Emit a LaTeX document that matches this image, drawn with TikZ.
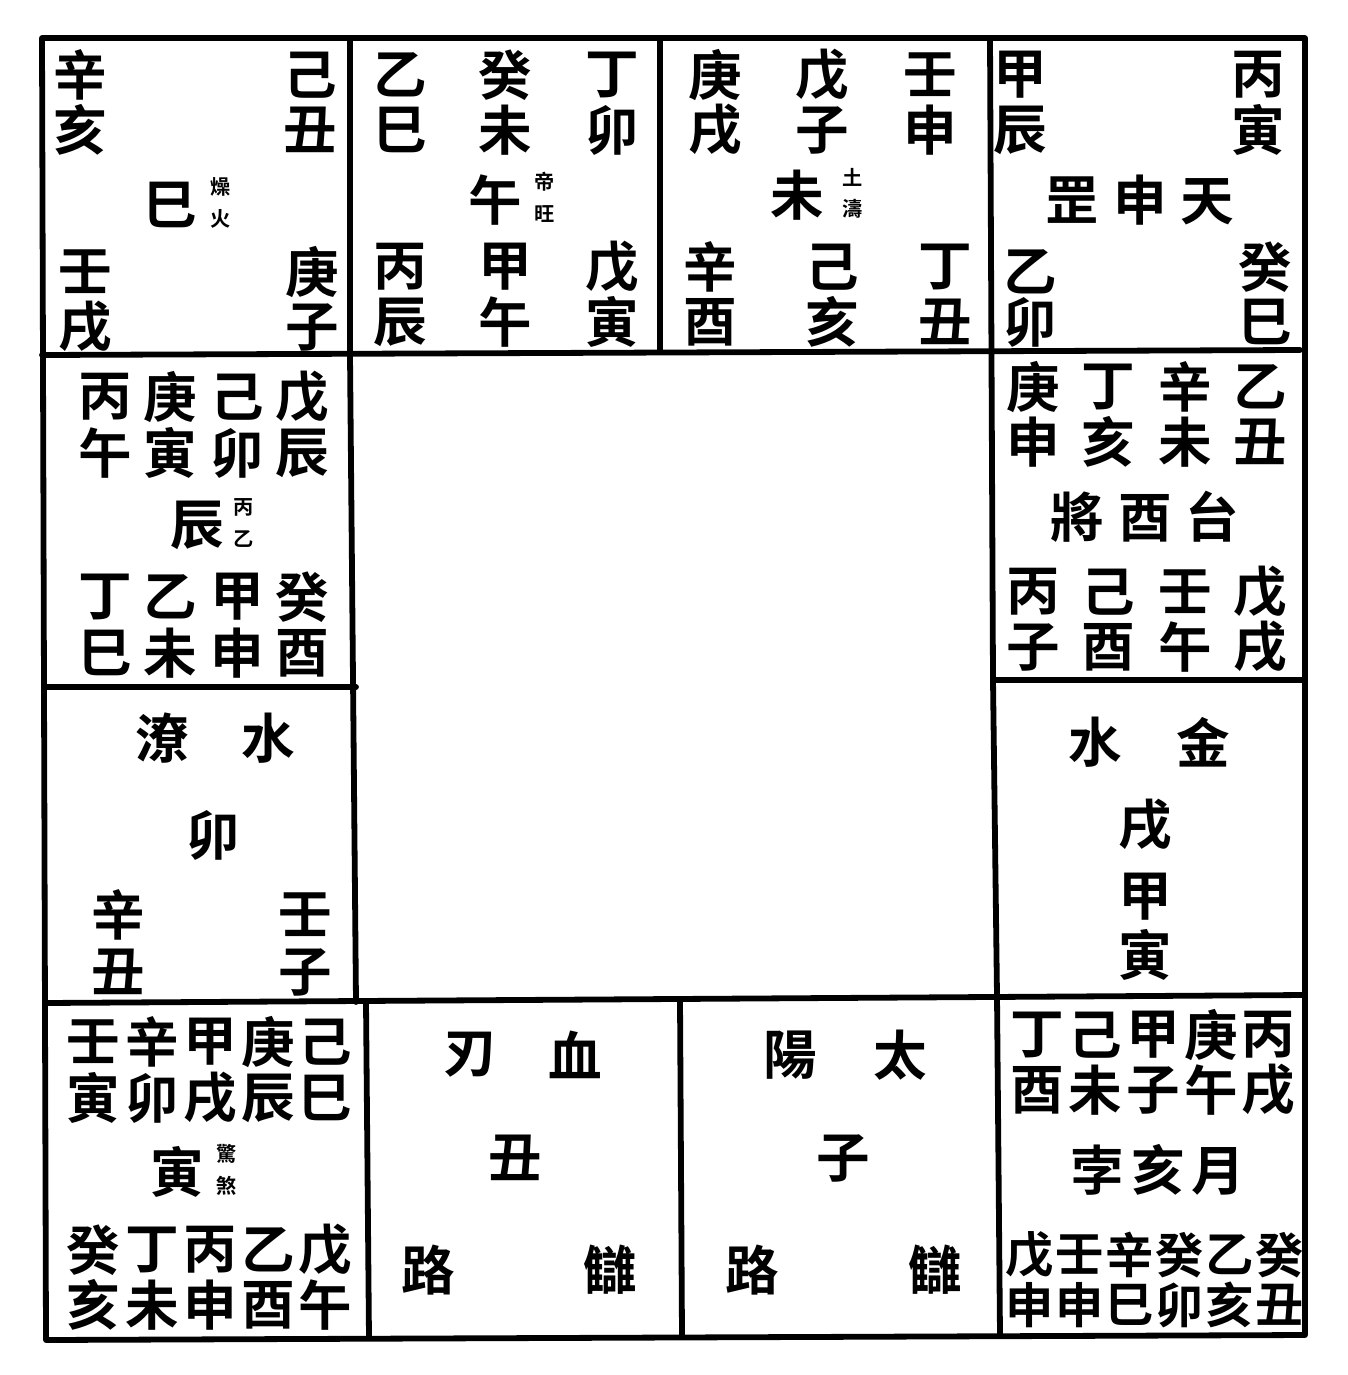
\documentclass[tikz,border=0pt]{standalone}
\usepackage{fontspec}
\newfontfamily\cjk{Noto Sans CJK TC}[BoldFont=* Bold]
\tikzset{
  ch/.style={inner sep=0pt, font=\cjk\bfseries\fontsize{30.5}{30.5}\selectfont},
  chs/.style={inner sep=0pt, font=\cjk\bfseries\fontsize{27.5}{27.5}\selectfont},
  sm/.style={inner sep=0pt, font=\cjk\bfseries\fontsize{11.5}{11.5}\selectfont},
  frame/.style={line width=3.3pt, line cap=round, line join=round}
}
\newcommand\ch[4]{\node[ch] (#1) at (#2,#3) {#4};}
\newcommand\chs[4]{\node[chs] (#1) at (#2,#3) {#4};}
% small stacked pair: name, x, y, top, bottom
\newcommand\sm[5]{\node[sm] (#1t) at (#2,#3-16) {#4};\node[sm] (#1b) at (#2,#3+16) {#5};}
\begin{document}
\begin{tikzpicture}[x=0.02cm,y=-0.02cm]
\useasboundingbox (0,0) rectangle (1347,1375);
% frame
\coordinate (TL) at (42,38); \coordinate (TR) at (1305,38);
\coordinate (BL) at (46,1340); \coordinate (BR) at (1305,1335);
\draw[frame] (TL) -- (TR) -- (BR) -- (BL) -- cycle;
\draw[frame] (42,355) -- (1300,350);
\draw[frame] (350,38) -- (350,355) -- (356,1002);
\draw[frame] (660,38) -- (660,352);
\draw[frame] (990,38) -- (993,680) -- (997,996) -- (1000,1335);
\draw[frame] (44,687) -- (356,687);
\draw[frame] (993,680) -- (1305,680);
\draw[frame] (45,1003) -- (1305,995);
\draw[frame] (366,1002) -- (369,1338);
\draw[frame] (680,1000) -- (682,1336);
% si cell
\ch{a1}{80}{75}{辛}\ch{a2}{80}{130}{亥}
\ch{a3}{310}{75}{己}\ch{a4}{310}{130}{丑}
\ch{a5}{170}{205}{巳}\sm{a6}{221}{203}{燥}{火}
\ch{a7}{85}{272}{壬}\ch{a8}{85}{327}{戌}
\ch{a9}{312}{272}{庚}\ch{a10}{312}{327}{子}
% wu cell
\ch{b1}{400}{75}{乙}\ch{b2}{400}{130}{巳}
\ch{b3}{505}{75}{癸}\ch{b4}{505}{130}{未}
\ch{b5}{612}{75}{丁}\ch{b6}{612}{130}{卯}
\ch{b7}{495}{200}{午}\sm{b8}{545}{198}{帝}{旺}
\ch{b9}{400}{267}{丙}\ch{b10}{400}{322}{辰}
\ch{b11}{505}{267}{甲}\ch{b12}{505}{322}{午}
\ch{b13}{612}{267}{戊}\ch{b14}{612}{322}{寅}
% wei cell
\ch{c1}{715}{75}{庚}\ch{c2}{715}{130}{戌}
\ch{c3}{822}{75}{戊}\ch{c4}{822}{130}{子}
\ch{c5}{930}{75}{壬}\ch{c6}{930}{130}{申}
\ch{c7}{797}{195}{未}\sm{c8}{853}{193}{土}{濤}
\ch{c9}{710}{267}{辛}\ch{c10}{710}{322}{酉}
\ch{c11}{832}{267}{己}\ch{c12}{832}{322}{亥}
\ch{c13}{945}{267}{丁}\ch{c14}{945}{322}{丑}
% shen cell
\ch{d1}{1020}{75}{甲}\ch{d2}{1020}{130}{辰}
\ch{d3}{1258}{75}{丙}\ch{d4}{1258}{130}{寅}
\ch{d5}{1140}{200}{罡\hspace{8pt}申\hspace{8pt}天}
\ch{d6}{1030}{272}{乙}\ch{d7}{1030}{322}{卯}
\ch{d8}{1265}{267}{癸}\ch{d9}{1265}{322}{巳}
% chen cell
\ch{e1}{105}{397}{丙}\ch{e2}{170}{397}{庚}\ch{e3}{237}{397}{己}\ch{e4}{302}{397}{戊}
\ch{e5}{105}{453}{午}\ch{e6}{170}{453}{寅}\ch{e7}{237}{453}{卯}\ch{e8}{302}{453}{辰}
\ch{e9}{197}{525}{辰}\sm{e10}{244}{523}{丙}{乙}
\ch{e11}{105}{597}{丁}\ch{e12}{170}{597}{乙}\ch{e13}{237}{597}{甲}\ch{e14}{302}{597}{癸}
\ch{e15}{105}{653}{巳}\ch{e16}{170}{653}{未}\ch{e17}{237}{653}{申}\ch{e18}{302}{653}{酉}
% you cell
\ch{f1}{1033}{387}{庚}\ch{f2}{1108}{387}{丁}\ch{f3}{1185}{387}{辛}\ch{f4}{1260}{387}{乙}
\ch{f5}{1033}{442}{申}\ch{f6}{1108}{442}{亥}\ch{f7}{1185}{442}{未}\ch{f8}{1260}{442}{丑}
\ch{f9}{1145}{517}{將\hspace{8pt}酉\hspace{8pt}台}
\ch{f10}{1033}{592}{丙}\ch{f11}{1108}{592}{己}\ch{f12}{1185}{592}{壬}\ch{f13}{1260}{592}{戊}
\ch{f14}{1033}{647}{子}\ch{f15}{1108}{647}{酉}\ch{f16}{1185}{647}{午}\ch{f17}{1260}{647}{戌}
% mao cell
\ch{g1}{162}{738}{潦}\ch{g2}{268}{738}{水}
\ch{g3}{213}{835}{卯}
\ch{g4}{118}{915}{辛}\ch{g5}{118}{972}{丑}
\ch{g6}{305}{915}{壬}\ch{g7}{305}{972}{子}
% xu cell
\ch{h1}{1095}{742}{水}\ch{h2}{1203}{742}{金}
\ch{h3}{1145}{825}{戌}
\ch{h4}{1145}{897}{甲}\ch{h5}{1145}{955}{寅}
% yin cell
\ch{i1}{93}{1042}{壬}\ch{i2}{152}{1042}{辛}\ch{i3}{210}{1042}{甲}\ch{i4}{268}{1042}{庚}\ch{i5}{325}{1042}{己}
\ch{i6}{93}{1098}{寅}\ch{i7}{152}{1098}{卯}\ch{i8}{210}{1098}{戌}\ch{i9}{268}{1098}{辰}\ch{i10}{325}{1098}{巳}
\ch{i11}{177}{1172}{寅}\sm{i12}{227}{1170}{驚}{煞}
\ch{i13}{93}{1250}{癸}\ch{i14}{152}{1250}{丁}\ch{i15}{210}{1250}{丙}\ch{i16}{268}{1250}{乙}\ch{i17}{325}{1250}{戊}
\ch{i18}{93}{1305}{亥}\ch{i19}{152}{1305}{未}\ch{i20}{210}{1305}{申}\ch{i21}{268}{1305}{酉}\ch{i22}{325}{1305}{午}
% chou cell
\ch{j1}{470}{1055}{刃}\ch{j2}{575}{1055}{血}
\ch{j3}{515}{1158}{丑}
\ch{j4}{428}{1270}{路}\ch{j5}{610}{1270}{讎}
% zi cell
\ch{k1}{790}{1055}{陽}\ch{k2}{900}{1055}{太}
\ch{k3}{843}{1158}{子}
\ch{k4}{752}{1270}{路}\ch{k5}{935}{1270}{讎}
% hai cell
\ch{l1}{1037}{1035}{丁}\ch{l2}{1095}{1035}{己}\ch{l3}{1153}{1035}{甲}\ch{l4}{1211}{1035}{庚}\ch{l5}{1268}{1035}{丙}
\ch{l6}{1037}{1090}{酉}\ch{l7}{1095}{1090}{未}\ch{l8}{1153}{1090}{子}\ch{l9}{1211}{1090}{午}\ch{l10}{1268}{1090}{戌}
\ch{l11}{1158}{1170}{孛\hspace{4pt}亥\hspace{4pt}月}
\chs{l12}{1030}{1255}{戊}\chs{l13}{1080}{1255}{壬}\chs{l14}{1130}{1255}{辛}\chs{l15}{1180}{1255}{癸}\chs{l16}{1230}{1255}{乙}\chs{l17}{1280}{1255}{癸}
\chs{l18}{1030}{1305}{申}\chs{l19}{1080}{1305}{申}\chs{l20}{1130}{1305}{巳}\chs{l21}{1180}{1305}{卯}\chs{l22}{1230}{1305}{亥}\chs{l23}{1280}{1305}{丑}
\end{tikzpicture}
\end{document}
